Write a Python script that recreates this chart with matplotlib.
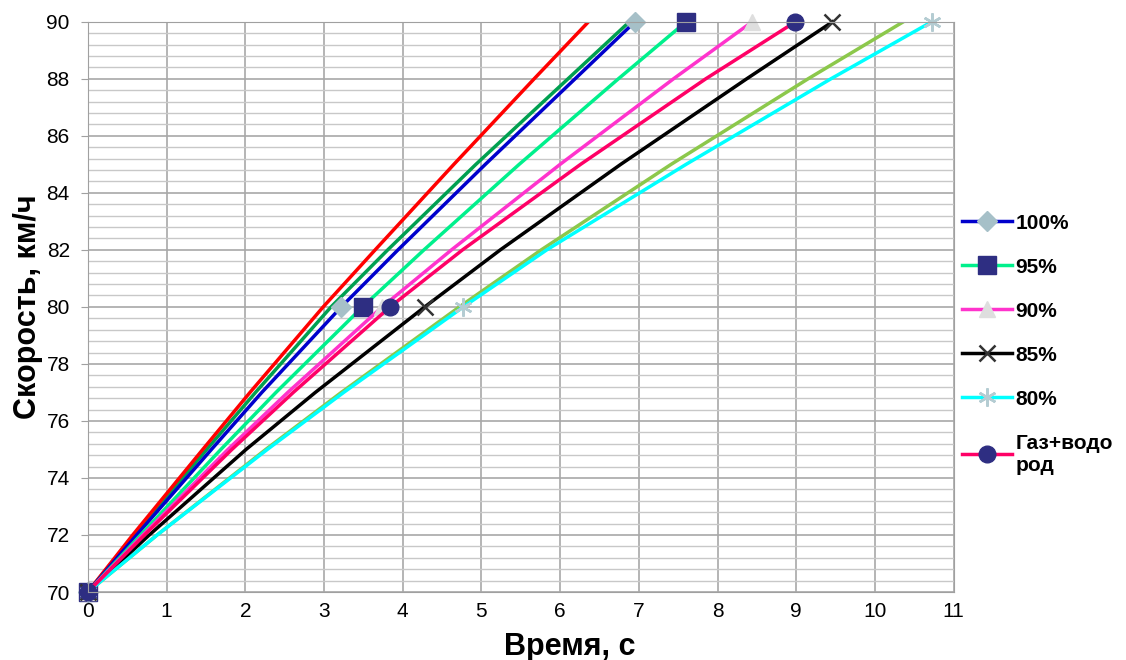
import matplotlib.pyplot as plt
import numpy as np

plt.rcParams["font.family"] = ["Liberation Sans", "DejaVu Sans"]

speed = [70, 72, 75, 77, 80, 82, 85, 88, 90]

t_red = [0, 0.57, 1.46, 2.06, 2.99, 3.65, 4.65, 5.67, 6.36]
t_dkgreen = [0, 0.59, 1.51, 2.13, 3.09, 3.81, 4.93, 6.10, 6.88]
t_100 = [0, 0.62, 1.57, 2.21, 3.22, 3.94, 5.05, 6.19, 6.95]
t_95 = [0, 0.67, 1.69, 2.39, 3.49, 4.27, 5.48, 6.74, 7.60]
t_90 = [0, 0.70, 1.78, 2.54, 3.74, 4.62, 6.00, 7.44, 8.44]
t_gas = [0, 0.72, 1.83, 2.61, 3.84, 4.76, 6.26, 7.85, 8.99]
t_85 = [0, 0.78, 2.01, 2.89, 4.28, 5.24, 6.77, 8.37, 9.46]
t_ygreen = [0, 0.88, 2.26, 3.22, 4.72, 5.76, 7.41, 9.15, 10.36]
t_80 = [0, 0.88, 2.28, 3.25, 4.77, 5.83, 7.60, 9.44, 10.72]

fig = plt.figure(figsize=(11.26, 6.6), dpi=100)
ax = fig.add_axes([0.078, 0.103, 0.769, 0.864])

marks = [0, 4, 8]

# series without legend entries
ax.plot(t_ygreen, speed, color="#8cc84b", lw=2.5)
ax.plot(t_dkgreen, speed, color="#00a050", lw=2.5)
ax.plot(t_red, speed, color="#ff0000", lw=2.5)

ax.plot(t_100, speed, color="#0000cc", lw=2.5, marker="D", ms=10,
        mfc="#a6c0c8", mec="#a6c0c8", markevery=marks, label="100%", clip_on=False)
ax.plot(t_95, speed, color="#00f08c", lw=2.5, marker="s", ms=13,
        mfc="#2e2e82", mec="#2e2e82", markevery=marks, label="95%", clip_on=False)
ax.plot(t_90, speed, color="#ff33cc", lw=2.5, marker="^", ms=12,
        mfc="#dedede", mec="#dedede", markevery=marks, label="90%", clip_on=False)
ax.plot(t_85, speed, color="#000000", lw=2.5, marker="x", ms=12, mew=1.8,
        mfc="#333333", mec="#333333", markevery=marks, label="85%", clip_on=False)
ax.plot(t_80, speed, color="#00ffff", lw=2.5, marker=(6, 2, 0), ms=13, mew=1.8,
        mfc="#b4ccd2", mec="#b4ccd2", markevery=marks, label="80%", clip_on=False)
ax.plot(t_gas, speed, color="#ff0066", lw=2.5, marker="o", ms=12,
        mfc="#2e2e82", mec="#2e2e82", markevery=marks, label="Газ+водо\nрод", clip_on=False)

ax.set_xlim(0, 11)
ax.set_ylim(70, 90)
ax.set_xticks(np.arange(0, 12, 1))
ax.set_yticks(np.arange(70, 91, 2))
ax.set_yticks(np.arange(70, 90.01, 0.4), minor=True)
ax.grid(which="major", color="#a8a8a8", lw=1.2)
ax.grid(which="minor", axis="y", color="#c8c8c8", lw=1)
ax.set_axisbelow(True)
for s in ax.spines.values():
    s.set_color("#a0a0a0")
ax.tick_params(axis="both", which="major", labelsize=15, color="#a0a0a0")
ax.tick_params(axis="y", length=5, pad=8)
ax.tick_params(axis="x", pad=7, length=0)
ax.tick_params(axis="y", which="minor", length=0)

ax.set_ylabel("Скорость, км/ч", fontsize=22, fontweight="bold")
ax.set_xlabel("Время, с", fontsize=22, fontweight="bold")
ax.xaxis.set_label_coords(0.556, -0.07)
ax.yaxis.set_label_coords(-0.052, 0.5)

leg = ax.legend(loc="upper left", bbox_to_anchor=(1.0, 0.678), frameon=False,
                fontsize=15, handlelength=2.4, handletextpad=0.15,
                labelspacing=1.2, borderaxespad=0.0)
for txt in leg.get_texts():
    txt.set_fontweight("bold")

fig.savefig("out.png", dpi=100)
